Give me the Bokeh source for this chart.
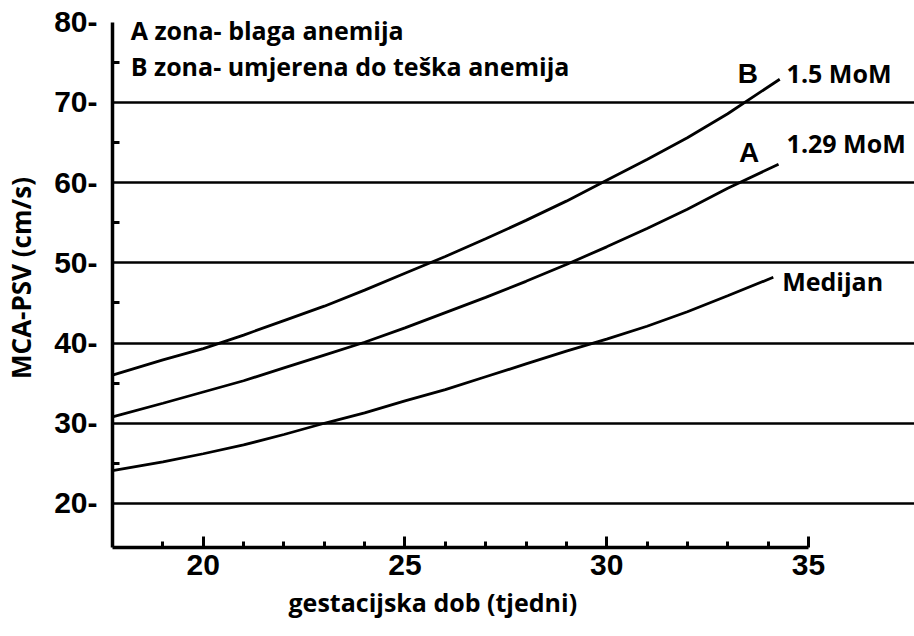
import math
from bokeh.plotting import figure
from bokeh.models import Range1d, FixedTicker, Label, Title
from bokeh.embed import file_html
from bokeh.resources import INLINE

# ---- data ----
weeks = [17.75, 19, 20, 21, 22, 23, 24, 25, 26, 27, 28, 29, 30, 31, 32, 33]
median_vals = [24.1, 25.2, 26.2, 27.3, 28.6, 30.0, 31.3, 32.8, 34.2, 35.8, 37.4, 39.0, 40.5, 42.1, 43.9, 45.9]
mom129_vals = [30.8, 32.5, 33.9, 35.3, 36.9, 38.5, 40.1, 41.9, 43.8, 45.7, 47.7, 49.8, 52.0, 54.3, 56.7, 59.3]
mom15_vals = [36.0, 37.9, 39.3, 41.0, 42.8, 44.6, 46.6, 48.7, 50.8, 53.0, 55.3, 57.7, 60.3, 62.9, 65.6, 68.6]
end_week = {"median": 34.13, "mom129": 34.26, "mom15": 34.29}
end_val = {"median": 48.2, "mom129": 62.3, "mom15": 72.9}

x_major = [20, 25, 30, 35]
x_minor = [19, 21, 22, 23, 24, 26, 27, 28, 29, 31, 32, 33, 34]
y_major = [20, 30, 40, 50, 60, 70, 80]
y_tick_labels = ["20-", "30-", "40-", "50-", "60-", "70-", "80-"]
y_minor = [25, 35, 45, 55, 65, 75]
grid_vals = [20, 30, 40, 50, 60, 70]

TICKFONT = "Liberation Sans"
SANS = "Open Sans"

p = figure(width=914, height=636,
           x_range=Range1d(17.75, 37.63), y_range=Range1d(14.51, 81.72),
           output_backend="svg", toolbar_location=None,
           min_border_left=111, min_border_right=0,
           min_border_top=8, min_border_bottom=89)
p.outline_line_color = None
p.background_fill_color = "white"
p.border_fill_color = "white"

# grid
p.xgrid.visible = False
p.ygrid.ticker = FixedTicker(ticks=grid_vals)
p.ygrid.bounds = (17.75, 35)
p.ygrid.grid_line_color = "black"
p.ygrid.grid_line_width = 2.7

# x axis
xa = p.xaxis[0]
xa.ticker = FixedTicker(ticks=x_major, minor_ticks=x_minor)
xa.bounds = (17.75, 35)
xa.axis_line_width = 3.5
xa.axis_line_color = "black"
xa.major_tick_in = 11
xa.major_tick_out = 0
xa.minor_tick_in = 6
xa.minor_tick_out = 0
xa.major_tick_line_width = 3
xa.minor_tick_line_width = 3
xa.major_tick_line_color = "black"
xa.minor_tick_line_color = "black"
xa.major_label_text_font = TICKFONT
xa.major_label_text_font_style = "bold"
xa.major_label_text_font_size = "30px"
xa.major_label_text_color = "black"
xa.major_label_standoff = 7

# y axis
ya = p.yaxis[0]
ya.ticker = FixedTicker(ticks=y_major, minor_ticks=y_minor)
ya.major_label_overrides = {v: s for v, s in zip(y_major, y_tick_labels)}
ya.bounds = (14.51, 80)
ya.axis_line_width = 3.5
ya.axis_line_color = "black"
ya.major_tick_in = 0
ya.major_tick_out = 0
ya.minor_tick_in = 7
ya.minor_tick_out = 0
ya.minor_tick_line_width = 3
ya.minor_tick_line_color = "black"
ya.major_label_text_font = TICKFONT
ya.major_label_text_font_style = "bold"
ya.major_label_text_font_size = "30px"
ya.major_label_text_color = "black"
ya.major_label_standoff = 15
ya.axis_label = "MCA-PSV (cm/s)"
ya.axis_label_text_font = SANS
ya.axis_label_text_font_style = "bold"
ya.axis_label_text_font_size = "26px"
ya.axis_label_text_color = "black"
ya.axis_label_standoff = 12

# x axis label as a title below the axis
xt = Title(text="gestacijska dob (tjedni)", align="left", offset=176,
           text_font=SANS, text_font_style="bold", text_font_size="25px",
           text_color="black", standoff=10)
p.add_layout(xt, "below")

# curves
for key, vals in (("median", median_vals), ("mom129", mom129_vals), ("mom15", mom15_vals)):
    xs = weeks + [end_week[key]]
    ys = vals + [end_val[key]]
    p.line(xs, ys, line_color="black", line_width=2.8)

def lab(x, y, text, font=SANS, size="25px", align="left"):
    p.add_layout(Label(x=x, y=y, text=text, text_font=font, text_font_style="bold",
                       text_font_size=size, text_color="black", text_align=align,
                       text_baseline="middle"))

lab(18.20, 79.07, "A zona- blaga anemija")
lab(18.20, 74.51, "B zona- umjerena do teška anemija")
lab(34.46, 73.65, "1.5 MoM")
lab(34.46, 64.90, "1.29 MoM")
lab(34.35, 47.70, "Medijan")
lab(33.50, 73.61, "B", font=TICKFONT, size="28px", align="center")
lab(33.53, 63.82, "A", font=TICKFONT, size="28px", align="center")

open("out.html", "w").write(file_html(p, INLINE))
